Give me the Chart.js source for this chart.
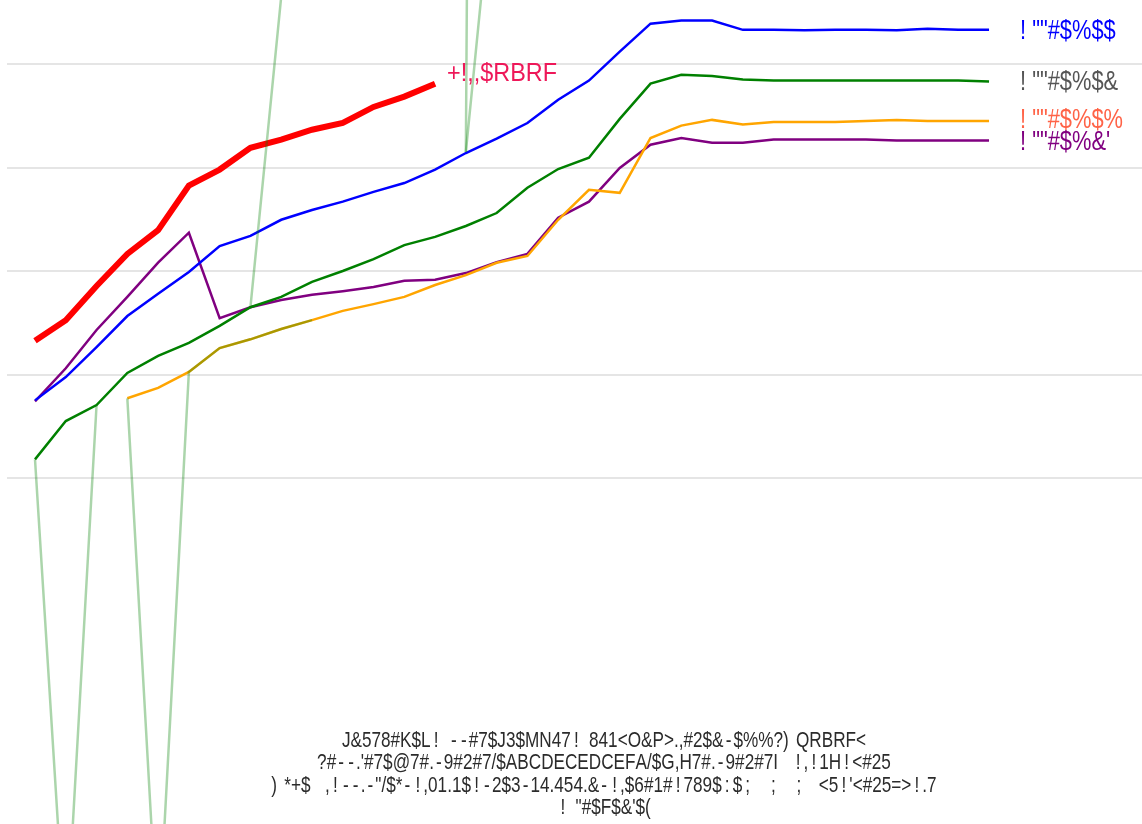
<!DOCTYPE html>
<html lang="en">
<head>
    <meta charset="UTF-8">
    <title>Chart</title>
    <script src="https://cdn.jsdelivr.net/npm/chart.js"></script>
    <style>
        html, body { margin: 0; padding: 0; background: #fff; }
        #wrap { width: 1142px; height: 824px; position: relative; }
    </style>
</head>
<body>
    <div id="wrap"><canvas id="chart"></canvas></div>

    <script>
        // x positions (years) and series values
        const years = [1990, 1991, 1992, 1993, 1994, 1995, 1996, 1997, 1998, 1999, 2000, 2001, 2002, 2003, 2004, 2005,
                       2006, 2007, 2008, 2009, 2010, 2011, 2012, 2013, 2014, 2015, 2016, 2017, 2018, 2019, 2020, 2021];

        const blueValues = [15.0, 19.5, 25.3, 31.3, 35.6, 39.8, 44.8, 46.8, 49.9, 51.8, 53.4, 55.3, 57.0, 59.6, 62.8, 65.6,
                            68.6, 73.1, 76.8, 82.4, 87.8, 88.4, 88.4, 86.6, 86.6, 86.5, 86.6, 86.6, 86.5, 86.8, 86.6, 86.6];
        const greenValues = [3.6, 11.0, 14.1, 20.3, 23.6, 26.1, 29.4, 33.0, 35.0, 37.9, 40.0, 42.3, 45.0, 46.6, 48.7, 51.2,
                             56.1, 59.7, 61.9, 69.4, 76.2, 77.9, 77.7, 77.0, 76.8, 76.8, 76.8, 76.8, 76.8, 76.8, 76.8, 76.6];
        const orangeValues = [null, null, null, 15.4, 17.4, 20.5, 25.1, 26.8, 28.8, 30.5, 32.3, 33.6, 35.0, 37.3, 39.2, 41.6,
                              42.9, 49.9, 55.7, 55.1, 65.7, 68.1, 69.2, 68.3, 68.8, 68.8, 68.8, 69.0, 69.2, 69.0, 69.0, 69.0];
        const purpleValues = [14.8, 21.2, 28.6, 35.0, 41.6, 47.4, 30.9, 33.0, 34.4, 35.4, 36.1, 36.9, 38.1, 38.3, 39.6, 41.7,
                              43.3, 50.3, 53.4, 59.9, 64.4, 65.7, 64.8, 64.8, 65.4, 65.4, 65.4, 65.4, 65.2, 65.2, 65.2, 65.2];
        const redValues = [26.5, 30.5, 37.1, 43.3, 47.9, 56.5, 59.6, 63.8, 65.4, 67.3, 68.6, 71.7, 73.7, 76.2];

        // faint green traces (mostly run off the plot)
        const traceA = [3.6, -91, 14.1, null, null, null, null, 33.0, 93, null, null, null, null, null, 63.0, 973,
                        null, null, null, null, null, null, null, null, null, null, null, null, null, null, null, null];
        const traceB = [null, null, null, 15.4, -90, 20.5, 25.1, 26.8, 28.8, 30.5, null, null, null, null, 63.0, 123,
                        null, null, null, null, null, null, null, null, null, null, null, null, null, null, null, null];

        const yTicks = [0, 20, 40, 60, 80];

        const seriesLabels = ['! ""#$%$$', '! ""#$%$&', '! ""#$%$%', '! ""#$%&\'', '+!,,$RBRF'];

        const titleLines = [
            'J&578#K$L! --#7$J3$MN47! 841<O&P>.,#2$&-$%%?) QRBRF<',
            '?#--.\'#7$@7#.-9#2#7/$ABCDECEDCEFA/$G,H7#.-9#2#7I  !,!1H!<#25',
            ') *+$  ,!--.-"/$*-!,01.1$!-2$3-14.454.&-!,$6#1#!789$:$;  ;  ;  <5!\'<#25=>!.7',
            '! "#$F$&\'$('
        ];

        const FONT = '"Liberation Sans", Arial, sans-serif';

        // the original face is narrow, with wide cells for some punctuation
        const wideCells = { '!': 0.5, '-': 0.45, ';': 0.5, ':': 0.5, ' ': 0.33 };

        function points(values) {
            return values.map((v, i) => ({ x: years[i], y: v }));
        }

        function narrowText(ctx, text, x, y, sx) {
            ctx.save();
            ctx.translate(x, y);
            ctx.scale(sx, 1);
            ctx.textAlign = 'left';
            ctx.textBaseline = 'middle';
            ctx.fillText(text, 0, 0);
            ctx.restore();
        }

        function narrowCentered(ctx, text, cx, y, size, sx) {
            const chars = [...text];
            const glyphW = chars.map(ch => ctx.measureText(ch).width * sx);
            const adv = chars.map((ch, i) => wideCells[ch] !== undefined ? wideCells[ch] * size : glyphW[i]);
            const total = adv.reduce((a, b) => a + b, 0);
            let x = cx - total / 2;
            chars.forEach((ch, i) => {
                narrowText(ctx, ch, x + (adv[i] - glyphW[i]) / 2, y, sx);
                x += adv[i];
            });
        }

        // text at the end of each line
        const endLabels = {
            id: 'endLabels',
            afterDatasetsDraw(chart) {
                const ctx = chart.ctx;
                chart.data.datasets.forEach((ds, i) => {
                    if (!ds.endLabel) return;
                    const meta = chart.getDatasetMeta(i);
                    let last = -1;
                    ds.data.forEach((p, j) => { if (p.y !== null) last = j; });
                    const pt = meta.data[last];
                    ctx.save();
                    ctx.font = ds.endLabelFont;
                    ctx.fillStyle = ds.endLabelColor;
                    narrowText(ctx, ds.endLabel, pt.x + ds.endLabelDx, pt.y + ds.endLabelDy, ds.endLabelScale);
                    ctx.restore();
                });
            }
        };

        // multi-line caption under the plot
        const caption = {
            id: 'caption',
            afterDraw(chart) {
                const ctx = chart.ctx;
                ctx.save();
                ctx.font = '22px ' + FONT;
                ctx.fillStyle = '#2b2b2b';
                titleLines.forEach((line, k) => {
                    narrowCentered(ctx, line, 604, 741 + k * 22.4, 22, 0.78);
                });
                ctx.restore();
            }
        };

        const ctx = document.getElementById('chart').getContext('2d');
        const chart = new Chart(ctx, {
            type: 'line',
            data: {
                datasets: [
                    { data: points(traceA), borderColor: 'rgba(0,128,0,0.33)', borderWidth: 2.5 },
                    { data: points(traceB), borderColor: 'rgba(0,128,0,0.33)', borderWidth: 2.5 },
                    { data: points(redValues), borderColor: '#ff0000', borderWidth: 6,
                      endLabel: seriesLabels[4], endLabelColor: '#ee1859', endLabelFont: '26px ' + FONT,
                      endLabelDx: 12, endLabelDy: -10, endLabelScale: 0.9 },
                    { data: points(blueValues), borderColor: '#0000ff', borderWidth: 2.5,
                      endLabel: seriesLabels[0], endLabelColor: '#0000ff', endLabelFont: '28px ' + FONT,
                      endLabelDx: 31, endLabelDy: 1, endLabelScale: 0.78 },
                    { data: points(greenValues), borderColor: '#008000', borderWidth: 2.5,
                      endLabel: seriesLabels[1], endLabelColor: '#555555', endLabelFont: '28px ' + FONT,
                      endLabelDx: 31, endLabelDy: 1, endLabelScale: 0.78 },
                    { data: points(orangeValues), borderColor: '#ffa500', borderWidth: 2.5,
                      endLabel: seriesLabels[2], endLabelColor: '#ff6347', endLabelFont: '28px ' + FONT,
                      endLabelDx: 31, endLabelDy: -1, endLabelScale: 0.78 },
                    { data: points(purpleValues), borderColor: '#800080', borderWidth: 2.5,
                      endLabel: seriesLabels[3], endLabelColor: '#800080', endLabelFont: '28px ' + FONT,
                      endLabelDx: 31, endLabelDy: 2, endLabelScale: 0.78 }
                ]
            },
            options: {
                responsive: true,
                maintainAspectRatio: false,
                animation: false,
                layout: { padding: { top: 64, left: 7, right: 0, bottom: 346 } },
                elements: {
                    point: { radius: 0 },
                    line: { tension: 0, fill: false, borderCapStyle: 'butt' }
                },
                datasets: { line: { clip: false, spanGaps: false } },
                plugins: {
                    legend: { display: false },
                    tooltip: { enabled: false },
                    title: { display: false }
                },
                scales: {
                    x: {
                        type: 'linear',
                        min: 1989.09,
                        max: 2025.97,
                        display: false
                    },
                    y: {
                        min: yTicks[0],
                        max: yTicks[yTicks.length - 1],
                        afterBuildTicks: (scale) => { scale.ticks = yTicks.map(v => ({ value: v })); },
                        ticks: { display: false },
                        border: { display: false },
                        grid: { color: '#e5e5e5', lineWidth: 2, drawTicks: false }
                    }
                }
            },
            plugins: [endLabels, caption]
        });
    </script>
</body>
</html>
